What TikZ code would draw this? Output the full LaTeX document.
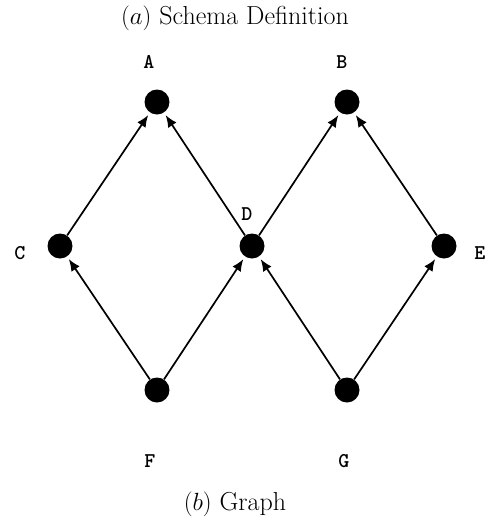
\documentclass[tikz,border=0pt]{standalone}
\usetikzlibrary{arrows.meta}
\begin{document}
\begin{tikzpicture}[x=1pt,y=-1pt,
  vtx/.style={circle,fill=black,minimum size=25pt,inner sep=0pt},
  lbl/.style={font=\fontsize{21}{24}\selectfont\ttfamily\bfseries},
  captxt/.style={font=\fontsize{26}{30}\selectfont},
  edge/.style={line width=1.7pt,-{Latex[length=12pt,width=10pt]},shorten >=3pt}]
\useasboundingbox (0,0) rectangle (487,523);
\node[captxt] (ta) at (235,18) {$(a)$ Schema Definition};
\node[captxt] (tb) at (235,504) {$(b)$ Graph};
\node[vtx] (A) at (157,102) {};
\node[vtx] (B) at (347,102) {};
\node[vtx] (C) at (60,246) {};
\node[vtx] (D) at (252,246) {};
\node[vtx] (E) at (444,246) {};
\node[vtx] (F) at (157,390) {};
\node[vtx] (G) at (347,390) {};
\node[lbl] (lA) at (149,62) {A};
\node[lbl] (lB) at (342,62) {B};
\node[lbl] (lC) at (20,253) {C};
\node[lbl] (lD) at (247,214) {D};
\node[lbl] (lE) at (480,253) {E};
\node[lbl] (lF) at (150,461) {F};
\node[lbl] (lG) at (344,461) {G};
\draw[edge] (C) -- (A);
\draw[edge] (D) -- (A);
\draw[edge] (D) -- (B);
\draw[edge] (E) -- (B);
\draw[edge] (F) -- (C);
\draw[edge] (F) -- (D);
\draw[edge] (G) -- (D);
\draw[edge] (G) -- (E);
\end{tikzpicture}
\end{document}
